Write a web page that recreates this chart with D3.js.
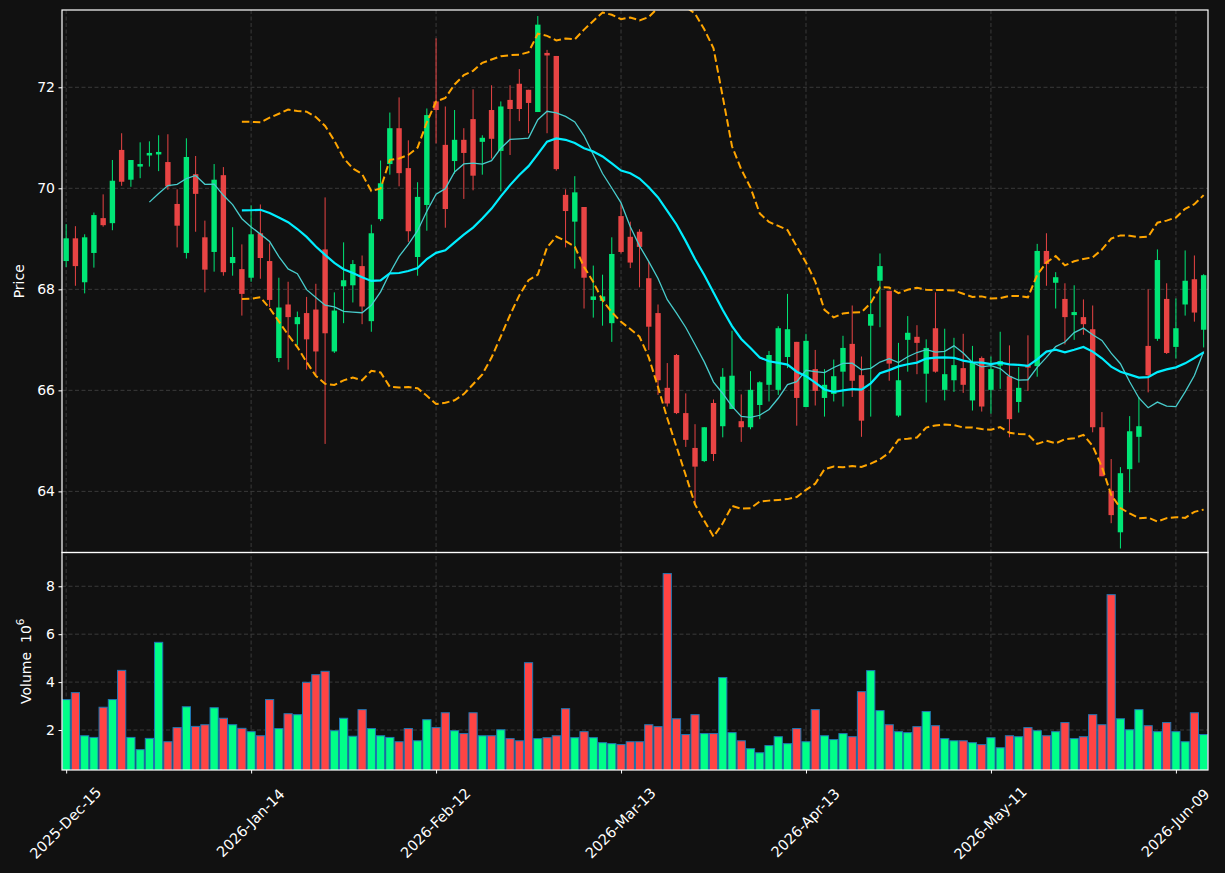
<!DOCTYPE html>
<html>
<head>
<meta charset="utf-8">
<script src="https://cdn.jsdelivr.net/npm/d3@7"></script>
<style>
  html, body { margin: 0; padding: 0; background: #111111; }
  svg { display: block; font-family: 'DejaVu Sans', sans-serif; }
</style>
</head>
<body>
<svg id="canvas" width="1225" height="873"></svg>
<script>
// daily OHLC + volume (trading days from 2025-12-15)
let startDate = '2025-12-15'
let holidays = ['2025-12-25', '2026-01-01', '2026-01-19', '2026-02-16', '2026-04-03', '2026-05-25']

let openPrices = [
  68.56, 69.01, 68.14, 68.72, 69.41, 69.31, 70.76, 70.17, 70.43, 70.65,
  70.67, 70.52, 69.69, 68.72, 70.28, 69.03, 68.74, 70.26, 68.52, 68.40,
  68.23, 69.11, 68.56, 66.64, 67.70, 67.31, 67.53, 67.60, 68.79, 66.77,
  68.06, 68.08, 68.46, 67.37, 69.39, 70.48, 71.19, 70.40, 68.64, 69.67,
  71.72, 70.86, 70.54, 70.96, 71.37, 70.92, 71.55, 70.74, 71.75, 72.07,
  71.95, 71.51, 72.68, 72.62, 69.87, 69.34, 69.63, 67.79, 67.77, 67.33,
  69.45, 69.04, 69.14, 68.22, 67.53, 66.05, 66.70, 65.55, 64.86, 64.60,
  65.75, 65.29, 65.63, 65.39, 65.27, 65.71, 66.11, 66.01, 66.66, 66.96,
  65.67, 66.42, 65.85, 65.93, 66.37, 66.92, 66.30, 67.28, 68.17, 67.97,
  65.50, 67.00, 67.06, 66.33, 67.23, 66.01, 66.20, 66.44, 65.80, 66.64,
  66.01, 66.49, 66.28, 65.77, 66.50, 66.48, 68.76, 68.13, 67.81, 67.49,
  67.45, 67.21, 65.27, 64.01, 63.19, 64.44, 65.08, 66.88, 67.02, 67.81,
  66.86, 67.70, 68.20, 67.20
]

let highPrices = [
  69.29, 69.25, 69.09, 69.52, 69.88, 70.56, 71.09, 70.56, 70.91, 70.93,
  71.05, 71.07, 69.98, 70.99, 70.64, 69.36, 70.48, 70.42, 69.23, 68.89,
  69.66, 69.68, 68.91, 68.23, 68.15, 67.56, 67.85, 68.11, 69.82, 67.94,
  68.93, 68.58, 68.67, 69.28, 70.55, 71.50, 71.80, 70.95, 70.12, 71.58,
  72.97, 71.62, 71.55, 71.19, 71.96, 71.05, 72.04, 71.72, 72.04, 72.36,
  71.95, 73.41, 72.74, 72.62, 69.98, 70.24, 69.63, 68.47, 68.29, 69.03,
  69.70, 69.34, 69.19, 68.55, 67.70, 66.54, 66.72, 65.94, 65.33, 65.27,
  65.82, 66.44, 67.18, 65.92, 66.38, 66.18, 66.78, 67.27, 67.91, 66.96,
  67.12, 66.80, 66.42, 66.61, 67.08, 67.68, 66.67, 68.02, 68.71, 67.97,
  66.94, 67.47, 67.29, 67.01, 67.94, 67.22, 67.04, 67.12, 66.88, 66.67,
  66.67, 67.16, 66.89, 66.46, 67.09, 68.90, 69.11, 68.34, 68.12, 68.08,
  67.80, 67.68, 65.57, 64.64, 64.48, 65.49, 65.87, 68.00, 68.79, 68.12,
  67.82, 68.77, 68.67, 68.30
]

let lowPrices = [
  68.44, 68.07, 67.92, 68.43, 69.24, 69.17, 70.05, 70.03, 70.20, 70.43,
  70.34, 69.97, 68.83, 68.61, 69.14, 67.94, 68.35, 68.27, 68.27, 67.48,
  68.15, 68.21, 67.65, 66.56, 66.41, 66.89, 66.41, 66.29, 64.94, 66.74,
  67.33, 67.74, 67.31, 67.16, 69.35, 70.27, 70.04, 68.94, 68.27, 69.16,
  70.89, 69.22, 70.29, 69.79, 69.96, 70.27, 70.59, 69.94, 70.66, 71.33,
  71.09, 71.51, 71.09, 70.35, 68.83, 68.41, 67.62, 67.44, 67.28, 66.96,
  68.71, 68.42, 68.04, 66.80, 65.91, 65.68, 65.53, 64.88, 63.73, 64.58,
  64.60, 65.07, 65.63, 64.98, 65.23, 65.43, 65.78, 65.91, 66.44, 65.30,
  65.67, 65.70, 65.48, 65.78, 65.68, 65.87, 65.08, 65.48, 67.25, 66.19,
  65.47, 66.37, 66.32, 65.76, 66.35, 65.80, 65.97, 65.95, 65.60, 65.58,
  65.54, 66.03, 65.07, 65.56, 65.99, 66.27, 68.07, 67.62, 66.91, 67.00,
  67.10, 65.17, 64.30, 63.37, 62.87, 63.98, 64.57, 65.96, 66.98, 66.72,
  66.63, 67.48, 67.36, 66.85
]

let closePrices = [
  69.01, 68.46, 69.03, 69.47, 69.27, 70.15, 70.13, 70.56, 70.48, 70.70,
  70.72, 70.04, 69.26, 70.62, 69.89, 68.39, 70.17, 68.34, 68.64, 67.91,
  69.09, 68.62, 67.79, 67.64, 67.45, 67.45, 67.01, 66.77, 67.13, 67.58,
  68.18, 68.50, 67.66, 69.11, 70.10, 71.19, 70.30, 69.15, 69.83, 71.45,
  71.55, 69.59, 70.96, 70.70, 70.25, 71.00, 70.98, 71.62, 71.57, 71.57,
  71.69, 73.24, 72.63, 70.38, 69.55, 69.92, 68.23, 67.86, 67.86, 68.70,
  68.74, 68.53, 68.84, 67.26, 66.20, 65.74, 65.55, 65.02, 64.49, 65.27,
  64.74, 66.27, 66.29, 65.27, 66.01, 66.16, 66.70, 67.23, 67.21, 65.85,
  66.98, 65.99, 66.11, 66.28, 66.84, 66.19, 65.40, 67.51, 68.46, 66.53,
  66.20, 67.14, 66.94, 66.84, 66.37, 66.32, 66.50, 66.11, 66.56, 65.68,
  66.42, 66.58, 65.43, 66.05, 66.45, 68.76, 68.50, 68.24, 67.45, 67.55,
  67.31, 65.27, 64.30, 63.53, 64.36, 65.19, 65.29, 66.30, 68.58, 66.74,
  67.23, 68.17, 67.54, 68.28
]

// volume in millions
let volumes = [
  3.27, 3.56, 1.76, 1.69, 2.95, 3.27, 4.49, 1.69, 1.18, 1.65,
  5.66, 1.51, 2.10, 2.97, 2.15, 2.22, 2.93, 2.49, 2.22, 2.07,
  1.93, 1.76, 3.27, 2.06, 2.68, 2.64, 3.99, 4.31, 4.45, 1.97,
  2.49, 1.74, 2.85, 2.06, 1.76, 1.69, 1.51, 2.06, 1.55, 2.43,
  2.10, 2.72, 1.97, 1.85, 2.72, 1.76, 1.76, 2.01, 1.64, 1.55,
  4.81, 1.64, 1.68, 1.76, 2.89, 1.68, 1.93, 1.68, 1.47, 1.43,
  1.39, 1.51, 1.51, 2.22, 2.14, 8.53, 2.47, 1.81, 2.64, 1.85,
  1.85, 4.19, 1.89, 1.55, 1.22, 1.05, 1.35, 1.72, 1.43, 2.06,
  1.51, 2.85, 1.76, 1.60, 1.85, 1.72, 3.60, 4.48, 2.81, 2.22,
  1.93, 1.89, 2.14, 2.77, 2.18, 1.64, 1.55, 1.55, 1.47, 1.39,
  1.68, 1.26, 1.76, 1.72, 2.10, 1.97, 1.76, 1.93, 2.31, 1.64,
  1.72, 2.64, 2.22, 7.65, 2.47, 2.01, 2.85, 2.18, 1.93, 2.31,
  1.93, 1.51, 2.72, 1.81
]

let priceTicks = [64, 66, 68, 70, 72]
let volumeTicks = [2, 4, 6, 8]
let dateTickIndexes = [0, 20, 40, 60, 80, 100, 120]

// trading calendar
let parseDay = d3.timeParse('%Y-%m-%d')
let fmtKey = d3.timeFormat('%Y-%m-%d')
let dates = []
let day = parseDay(startDate)
while (dates.length < closePrices.length) {
    let wd = day.getDay()
    if (wd !== 0 && wd !== 6 && !holidays.includes(fmtKey(day))) dates.push(new Date(day))
    day = d3.timeDay.offset(day, 1)
}

let bars = closePrices.map((c, i) => ({
    i: i, open: openPrices[i], high: highPrices[i], low: lowPrices[i], close: c, volume: volumes[i],
    up: c >= openPrices[i]
}))

// moving averages and bollinger bands (20, 2 std)
let rolling = (n, fn) => closePrices.map((c, i) => i < n - 1 ? null : fn(closePrices.slice(i - n + 1, i + 1)))
let ma10 = rolling(10, w => d3.mean(w))
let ma20 = rolling(20, w => d3.mean(w))
let sd20 = rolling(20, w => { let m = d3.mean(w); return Math.sqrt(d3.mean(w, v => (v - m) * (v - m))) })
let bandUpper = ma20.map((m, i) => m == null ? null : m + 2 * sd20[i])
let bandLower = ma20.map((m, i) => m == null ? null : m - 2 * sd20[i])

let canvas = d3.select('#canvas')
let left = 62, right = 1208, priceTop = 10, split = 552.5, volBottom = 770

let xScale = d3.scaleLinear().domain([-0.45, 123.47]).range([left, right])
let yPrice = d3.scaleLinear().domain([62.79, 73.53]).range([split, priceTop])
let yVol = d3.scaleLinear().domain([0.33, 9.41]).range([volBottom, split])

let defs = canvas.append('defs')
defs.append('clipPath').attr('id', 'clipPrice')
    .append('rect').attr('x', left).attr('y', priceTop).attr('width', right - left).attr('height', split - priceTop)
defs.append('clipPath').attr('id', 'clipVol')
    .append('rect').attr('x', left).attr('y', split).attr('width', right - left).attr('height', volBottom - split)

canvas.append('rect').attr('width', 1225).attr('height', 873).attr('fill', '#111111')

// grid
let gridColor = '#3a3a3a'
let grid = canvas.append('g').attr('stroke', gridColor).attr('stroke-width', 1).attr('stroke-dasharray', '4,2.5')
dateTickIndexes.forEach(t => {
    grid.append('line').attr('x1', xScale(t)).attr('x2', xScale(t)).attr('y1', priceTop).attr('y2', volBottom)
})
priceTicks.forEach(t => {
    grid.append('line').attr('x1', left).attr('x2', right).attr('y1', yPrice(t)).attr('y2', yPrice(t))
})
volumeTicks.forEach(t => {
    grid.append('line').attr('x1', left).attr('x2', right).attr('y1', yVol(t)).attr('y2', yVol(t))
})

// candles
let priceLayer = canvas.append('g').attr('clip-path', 'url(#clipPrice)')
let upColor = '#00e676', downColor = '#e84444'

priceLayer.selectAll('line.wick')
    .data(bars)
    .enter()
    .append('line')
    .attr('class', 'wick')
    .attr('x1', d => xScale(d.i)).attr('x2', d => xScale(d.i))
    .attr('y1', d => yPrice(d.high)).attr('y2', d => yPrice(d.low))
    .attr('stroke', d => d.up ? upColor : downColor)
    .attr('stroke-width', 1)

let bodyW = 5.4
priceLayer.selectAll('rect.body')
    .data(bars)
    .enter()
    .append('rect')
    .attr('class', 'body')
    .attr('x', d => xScale(d.i) - bodyW / 2)
    .attr('width', bodyW)
    .attr('y', d => yPrice(Math.max(d.open, d.close)))
    .attr('height', d => Math.max(1, Math.abs(yPrice(d.open) - yPrice(d.close))))
    .attr('fill', d => d.up ? upColor : downColor)

// overlays
let lineGen = d3.line()
    .defined(d => d != null)
    .x((d, i) => xScale(i))
    .y(d => yPrice(d))

priceLayer.append('path').attr('d', lineGen(bandUpper))
    .attr('fill', 'none').attr('stroke', '#ffa500').attr('stroke-width', 2).attr('stroke-dasharray', '7.5,3.5')
priceLayer.append('path').attr('d', lineGen(bandLower))
    .attr('fill', 'none').attr('stroke', '#ffa500').attr('stroke-width', 2).attr('stroke-dasharray', '7.5,3.5')
priceLayer.append('path').attr('d', lineGen(ma10))
    .attr('fill', 'none').attr('stroke', '#48cccc').attr('stroke-width', 1.3)
priceLayer.append('path').attr('d', lineGen(ma20))
    .attr('fill', 'none').attr('stroke', '#00eeff').attr('stroke-width', 2.2)

// volume
let volLayer = canvas.append('g').attr('clip-path', 'url(#clipVol)')
let barW = 8.2
volLayer.selectAll('rect.vol')
    .data(bars)
    .enter()
    .append('rect')
    .attr('class', 'vol')
    .attr('x', d => xScale(d.i) - barW / 2)
    .attr('width', barW)
    .attr('y', d => yVol(d.volume))
    .attr('height', d => volBottom - yVol(d.volume) + 2)
    .attr('fill', d => d.up ? '#00ff88' : '#ff4444')
    .attr('stroke', '#1f77b4')
    .attr('stroke-width', 1)

// frames
let frame = canvas.append('g').attr('fill', 'none').attr('stroke', '#ffffff').attr('stroke-width', 1.2)
frame.append('rect').attr('x', left).attr('y', priceTop).attr('width', right - left).attr('height', split - priceTop)
frame.append('rect').attr('x', left).attr('y', split).attr('width', right - left).attr('height', volBottom - split)

// axes
let styleAxis = (g) => {
    g.select('.domain').remove()
    g.selectAll('.tick line').attr('stroke', '#ffffff')
    g.selectAll('.tick text').attr('fill', '#ffffff').style('font-size', '14px').style('font-family', 'DejaVu Sans')
}

canvas.append('g')
    .attr('transform', `translate(${left},0)`)
    .call(d3.axisLeft(yPrice).tickValues(priceTicks).tickFormat(d3.format('d')).tickSize(3.5).tickPadding(3.5))
    .call(styleAxis)

canvas.append('g')
    .attr('transform', `translate(${left},0)`)
    .call(d3.axisLeft(yVol).tickValues(volumeTicks).tickFormat(d3.format('d')).tickSize(3.5).tickPadding(3.5))
    .call(styleAxis)

let fmtDate = d3.timeFormat('%Y-%b-%d')
let xAxis = canvas.append('g')
    .attr('transform', `translate(0,${volBottom})`)
    .call(d3.axisBottom(xScale).tickValues(dateTickIndexes).tickFormat(i => fmtDate(dates[i])).tickSize(3.5))
    .call(styleAxis)

xAxis.selectAll('.tick text')
    .attr('y', 0).attr('dy', null)
    .attr('text-anchor', 'middle')
    .attr('dominant-baseline', 'central')
    .style('font-size', '14.5px')
    .attr('transform', 'translate(-1,53) rotate(-45)')

// axis labels
canvas.append('text')
    .attr('transform', `translate(24,${(priceTop + split) / 2}) rotate(-90)`)
    .attr('text-anchor', 'middle')
    .attr('fill', '#ffffff')
    .style('font-size', '14px')
    .text('Price')

let volLabel = canvas.append('text')
    .attr('transform', `translate(31,${(split + volBottom) / 2}) rotate(-90)`)
    .attr('text-anchor', 'middle')
    .attr('fill', '#ffffff')
    .style('font-size', '14px')
volLabel.append('tspan').text('Volume\u00a0\u00a010')
volLabel.append('tspan').attr('dy', -7).style('font-size', '10.5px').text('6')
</script>
</body>
</html>
